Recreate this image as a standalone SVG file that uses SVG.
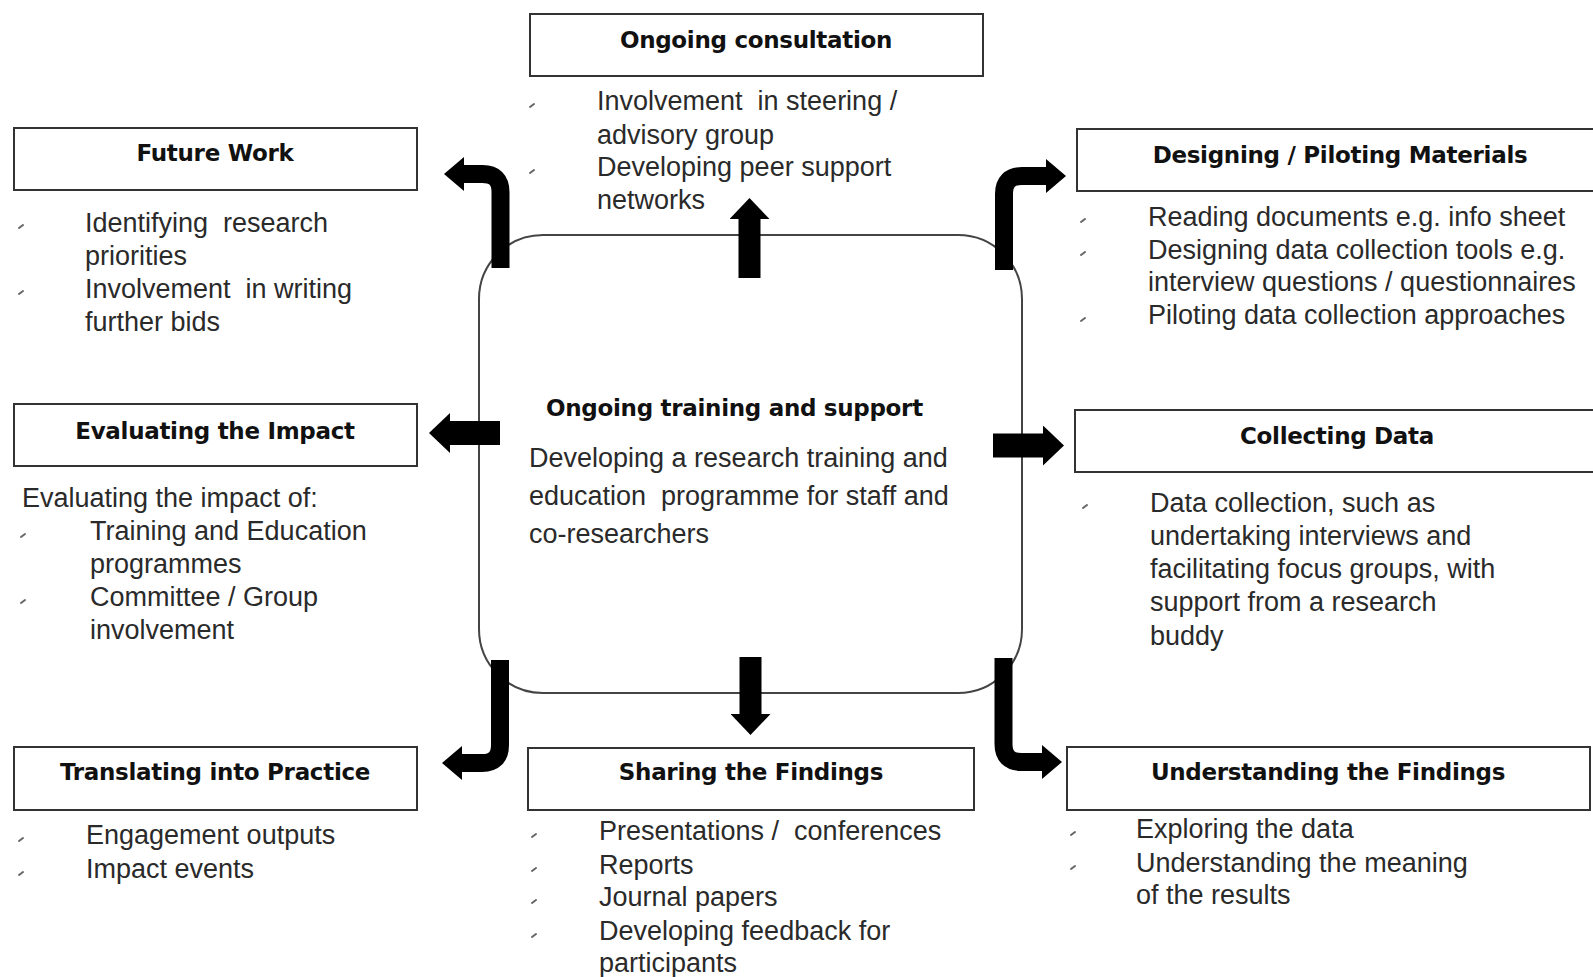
<svg xmlns="http://www.w3.org/2000/svg" xmlns:xlink="http://www.w3.org/1999/xlink" width="1593" height="977" viewBox="0 0 1593 977">
<style>
.box{fill:#fff;stroke:#333;stroke-width:2}
.hub{fill:#fff;stroke:#444;stroke-width:2}
.ttl{font-family:"DejaVu Sans",Verdana,sans-serif;font-weight:bold;font-size:23px;fill:#111;letter-spacing:-0.3px}
.txt{font-family:"Liberation Sans",Arial,sans-serif;font-size:27px;fill:#2a2a2a;white-space:pre}
.blt{stroke:#666;stroke-width:2;stroke-linecap:round;fill:none}
.arr{fill:none;stroke:#000;stroke-linejoin:miter}
.big{stroke-width:22}
.mid{stroke-width:24}
.bent{stroke-width:18}
</style>
<defs>
<marker id="headL" markerUnits="userSpaceOnUse" viewBox="0 0 21 40" refX="1" refY="20" markerWidth="21" markerHeight="40" orient="auto"><path d="M0,0 L21,20 L0,40 z" fill="#000"/></marker>
<marker id="headS" markerUnits="userSpaceOnUse" viewBox="0 0 20 34" refX="1" refY="17" markerWidth="20" markerHeight="34" orient="auto"><path d="M0,0 L20,17 L0,34 z" fill="#000"/></marker>
<path id="b" class="blt" d="M-2,2 L2,-1"/>
</defs>
<rect width="1593" height="977" fill="#fff"/>

<g id="hub">
<rect class="hub" x="479" y="235" width="543" height="458" rx="64" ry="64"/>
<text class="ttl" x="546" y="416">Ongoing training and support</text>
<text class="txt" x="529" y="467">Developing a research training and</text>
<text class="txt" x="529" y="505">education  programme for staff and</text>
<text class="txt" x="529" y="543">co-researchers</text>
</g>

<g id="connectors">
<path class="arr big" d="M749.5,278 V218" marker-end="url(#headL)"/>
<path class="arr big" d="M750.5,657 V715" marker-end="url(#headL)"/>
<path class="arr mid" d="M500,433 H449" marker-end="url(#headL)"/>
<path class="arr mid" d="M993,445.5 H1044" marker-end="url(#headL)"/>
<path class="arr bent" d="M500.5,268 V192 Q500.5,174 482.5,174 H463" marker-end="url(#headS)"/>
<path class="arr bent" d="M1004,270 V194 Q1004,176 1022,176 H1047" marker-end="url(#headS)"/>
<path class="arr bent" d="M500,660 V745 Q500,763 482,763 H461" marker-end="url(#headS)"/>
<path class="arr bent" d="M1003.5,658 V744 Q1003.5,762 1021.5,762 H1043" marker-end="url(#headS)"/>
</g>

<g id="consultation">
<rect class="box" x="530" y="14" width="453" height="62"/>
<text class="ttl" x="756" y="48" text-anchor="middle">Ongoing consultation</text>
<use xlink:href="#b" x="532" y="105"/>
<use xlink:href="#b" x="532" y="171"/>
<text class="txt" x="597" y="110">Involvement  in steering /</text>
<text class="txt" x="597" y="144">advisory group</text>
<text class="txt" x="597" y="176">Developing peer support</text>
<text class="txt" x="597" y="209">networks</text>
</g>

<g id="future-work">
<rect class="box" x="14" y="128" width="403" height="62"/>
<text class="ttl" x="215" y="161" text-anchor="middle">Future Work</text>
<use xlink:href="#b" x="21" y="226"/>
<use xlink:href="#b" x="21" y="292"/>
<text class="txt" x="85" y="232">Identifying  research</text>
<text class="txt" x="85" y="265">priorities</text>
<text class="txt" x="85" y="298">Involvement  in writing</text>
<text class="txt" x="85" y="331">further bids</text>
</g>

<g id="designing">
<rect class="box" x="1077" y="129" width="530" height="62"/>
<text class="ttl" x="1340" y="163" text-anchor="middle">Designing / Piloting Materials</text>
<use xlink:href="#b" x="1083" y="220"/>
<use xlink:href="#b" x="1083" y="253"/>
<use xlink:href="#b" x="1083" y="319"/>
<text class="txt" x="1148" y="226">Reading documents e.g. info sheet</text>
<text class="txt" x="1148" y="259">Designing data collection tools e.g.</text>
<text class="txt" x="1148" y="291">interview questions / questionnaires</text>
<text class="txt" x="1148" y="324">Piloting data collection approaches</text>
</g>

<g id="evaluating">
<rect class="box" x="14" y="404" width="403" height="62"/>
<text class="ttl" x="215" y="439" text-anchor="middle">Evaluating the Impact</text>
<text class="txt" x="22" y="507">Evaluating the impact of:</text>
<use xlink:href="#b" x="23" y="535"/>
<use xlink:href="#b" x="23" y="601"/>
<text class="txt" x="90" y="540">Training and Education</text>
<text class="txt" x="90" y="573">programmes</text>
<text class="txt" x="90" y="606">Committee / Group</text>
<text class="txt" x="90" y="639">involvement</text>
</g>

<g id="collecting">
<rect class="box" x="1075" y="410" width="530" height="62"/>
<text class="ttl" x="1337" y="444" text-anchor="middle">Collecting Data</text>
<use xlink:href="#b" x="1085" y="506"/>
<text class="txt" x="1150" y="512">Data collection, such as</text>
<text class="txt" x="1150" y="545">undertaking interviews and</text>
<text class="txt" x="1150" y="578">facilitating focus groups, with</text>
<text class="txt" x="1150" y="611">support from a research</text>
<text class="txt" x="1150" y="645">buddy</text>
</g>

<g id="translating">
<rect class="box" x="14" y="747" width="403" height="63"/>
<text class="ttl" x="215" y="780" text-anchor="middle">Translating into Practice</text>
<use xlink:href="#b" x="21" y="839"/>
<use xlink:href="#b" x="21" y="873"/>
<text class="txt" x="86" y="844">Engagement outputs</text>
<text class="txt" x="86" y="878">Impact events</text>
</g>

<g id="sharing">
<rect class="box" x="528" y="748" width="446" height="62"/>
<text class="ttl" x="751" y="780" text-anchor="middle">Sharing the Findings</text>
<use xlink:href="#b" x="534" y="835"/>
<use xlink:href="#b" x="534" y="869"/>
<use xlink:href="#b" x="534" y="901"/>
<use xlink:href="#b" x="534" y="935"/>
<text class="txt" x="599" y="840">Presentations /  conferences</text>
<text class="txt" x="599" y="874">Reports</text>
<text class="txt" x="599" y="906">Journal papers</text>
<text class="txt" x="599" y="940">Developing feedback for</text>
<text class="txt" x="599" y="972">participants</text>
</g>

<g id="understanding">
<rect class="box" x="1067" y="747" width="523" height="63"/>
<text class="ttl" x="1328" y="780" text-anchor="middle">Understanding the Findings</text>
<use xlink:href="#b" x="1073" y="833"/>
<use xlink:href="#b" x="1073" y="867"/>
<text class="txt" x="1136" y="838">Exploring the data</text>
<text class="txt" x="1136" y="872">Understanding the meaning</text>
<text class="txt" x="1136" y="904">of the results</text>
</g>
</svg>
